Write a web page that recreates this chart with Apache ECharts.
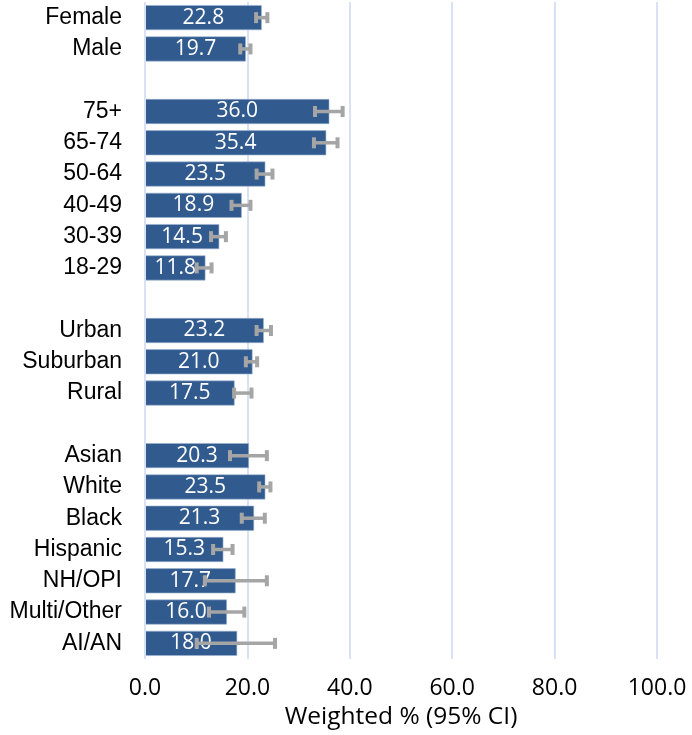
<!DOCTYPE html>
<html>
<head>
<meta charset="utf-8">
<script src="https://cdn.jsdelivr.net/npm/echarts@6/dist/echarts.min.js"></script>
<style>
  html, body { margin: 0; padding: 0; background: #fff; }
  #chart { width: 692px; height: 735px; }
</style>
</head>
<body>
<div id="chart"></div>
<script>
// rows from top to bottom, blank strings are the gaps between groups
var categories = ['Female', 'Male', ' ',
  '75+', '65-74', '50-64', '40-49', '30-39', '18-29', '  ',
  'Urban', 'Suburban', 'Rural', '   ',
  'Asian', 'White', 'Black', 'Hispanic', 'NH/OPI', 'Multi/Other', 'AI/AN'];
var values = [22.8, 19.7, null,
  36.0, 35.4, 23.5, 18.9, 14.5, 11.8, null,
  23.2, 21.0, 17.5, null,
  20.3, 23.5, 21.3, 15.3, 17.7, 16.0, 18.0];
var ciLow = [21.7, 18.6, null,
  33.2, 33.0, 21.8, 16.9, 12.9, 10.1, null,
  21.8, 19.7, 17.4, null,
  16.6, 22.3, 18.9, 13.3, 11.7, 12.5, 10.1];
var ciHigh = [23.9, 20.6, null,
  38.6, 37.6, 24.9, 20.6, 15.8, 13.0, null,
  24.6, 21.9, 20.8, null,
  23.8, 24.5, 23.4, 17.1, 23.8, 19.4, 25.4];
var xTicks = [0, 20, 40, 60, 80, 100];

var chart = echarts.init(document.getElementById('chart'));

var errData = [];
categories.forEach(function (c, i) {
  if (values[i] != null) errData.push([i, ciLow[i], ciHigh[i]]);
});

var option = {
  animation: false,
  grid: { left: 145, right: 35, top: 2, bottom: 71, containLabel: false },
  xAxis: {
    type: 'value',
    min: xTicks[0],
    max: xTicks[xTicks.length - 1],
    interval: 20,
    name: 'Weighted % (95% CI)',
    nameLocation: 'middle',
    nameGap: 46,
    nameTextStyle: { fontFamily: 'Open Sans', fontSize: 24.5, color: '#000' },
    axisLine: { show: false },
    axisTick: { show: false },
    axisLabel: {
      margin: 18,
      fontFamily: 'Open Sans',
      fontSize: 23,
      color: '#000',
      formatter: function (v) { return v.toFixed(1); }
    },
    splitLine: { show: true, lineStyle: { color: '#d9e2f5', width: 2 } }
  },
  yAxis: {
    type: 'category',
    data: categories,
    inverse: true,
    axisLine: { show: false },
    axisTick: { show: false },
    axisLabel: {
      margin: 23,
      fontFamily: 'Liberation Sans',
      fontSize: 23,
      color: '#000'
    }
  },
  series: [{
    type: 'bar',
    data: values,
    barWidth: 25,
    itemStyle: { color: '#315b8f', borderColor: '#9db3d0', borderWidth: 0.6 },
    label: {
      show: true,
      position: 'inside',
      color: '#fff',
      fontFamily: 'Open Sans',
      fontSize: 21,
      formatter: function (p) { return p.value.toFixed(1); }
    },
    z: 2
  }, {
    type: 'custom',
    data: errData,
    z: 3,
    renderItem: function (params, api) {
      var y = api.value(0);
      var lo = api.coord([api.value(1), y]);
      var hi = api.coord([api.value(2), y]);
      var h = 5.5;
      var st = { stroke: '#a5a5a5', lineWidth: 3.5 };
      var cap = { stroke: '#a5a5a5', lineWidth: 4 };
      return {
        type: 'group',
        children: [
          { type: 'line', shape: { x1: lo[0], y1: lo[1], x2: hi[0], y2: hi[1] }, style: st },
          { type: 'line', shape: { x1: lo[0], y1: lo[1] - h, x2: lo[0], y2: lo[1] + h }, style: cap },
          { type: 'line', shape: { x1: hi[0], y1: hi[1] - h, x2: hi[0], y2: hi[1] + h }, style: cap }
        ]
      };
    },
    encode: { x: [1, 2], y: 0 }
  }, {
    // vertical line at zero
    type: 'line',
    data: [],
    markLine: {
      silent: true,
      symbol: 'none',
      label: { show: false },
      lineStyle: { color: '#d9e2f5', width: 2, type: 'solid' },
      data: [{ xAxis: 0 }]
    }
  }]
};

chart.setOption(option);
</script>
</body>
</html>
